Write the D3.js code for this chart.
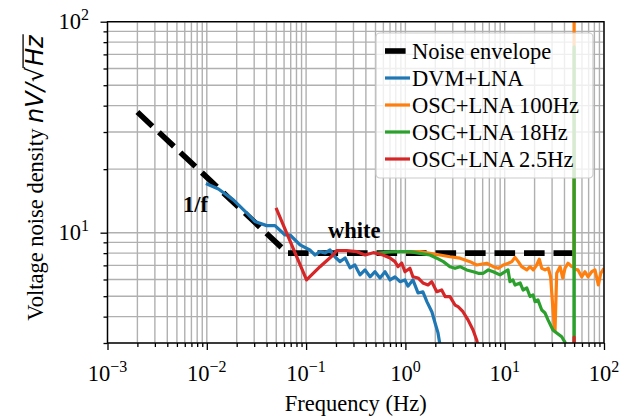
<!DOCTYPE html>
<html><head><meta charset="utf-8">
<script src="https://cdn.jsdelivr.net/npm/d3@7"></script>
<style>
html,body{margin:0;padding:0;background:#fff;}
svg{display:block;}
</style></head>
<body>
<svg id="chart" width="627" height="418"></svg>
<script>
// ---------- data ----------
const envelopeF = [0.002, 0.065, 50];
const envelopeV = [37.3, 8, 8];

const blueF = [0.0098,0.0131,0.0185,0.0252,0.0305,0.0401,0.0486,0.0614,0.0689,0.0869,0.109,0.123,0.138,0.155,0.174,0.195,0.219,0.247,0.277,0.310,0.349,0.392,0.441,0.494,0.555,0.624,0.700,0.785,0.883,0.99,1.06,1.19,1.34,1.50,1.65,1.85,1.99,2.13,2.23];
const blueV = [17.1,16.1,14.3,12.4,11.3,10.8,10.8,9.75,9.75,8.75,8.28,7.84,8.13,8.01,8.28,7.69,7.29,7.59,6.81,7.03,6.31,6.66,6.18,6.53,6.10,6.53,5.97,6.18,5.86,5.97,5.58,5.97,5.18,5.24,4.70,4.21,3.73,3.35,2.94];

const orangeF = [1.0,1.40,1.77,2.23,2.81,3.55,4.47,5.22,6.59,7.67,8.63,9.68,10.9,11.8,12.7,13.7,14.8,16.7,18.0,19.4,21.0,22.3,23.6,25.5,27.5,29.0,30.8,32.1,33.4,36.1,38.4,40.5,43.4,47.3,49.8,50,50.2,54.7,59.6,64.4,69.0,75.2,81.1,87.7,92.7,100];
const orangeV = [8.1,8.13,7.98,7.84,7.69,7.57,7.29,7.03,7.16,6.90,6.78,7.03,7.16,7.29,7.64,7.29,6.90,6.66,6.90,6.66,7.03,7.48,6.78,6.66,6.78,6.18,4.16,3.40,6.42,6.90,6.10,6.78,7.16,6.90,6.9,200,6.7,6.66,6.18,6.53,6.18,6.53,6.66,5.65,6.42,6.78];

const greenF = [0.494,0.70,0.883,1.11,1.40,1.77,2.07,2.41,2.81,3.16,3.55,4.14,4.83,5.42,6.09,6.84,7.67,8.97,10.1,10.8,11.3,12.1,12.7,14.3,15.3,16.7,18.0,19.3,20.2,21.6,23.6,25.5,27.3,30.6,33.4,37.5,40.5,45,49.8,50,50.2];
const greenV = [7.98,8.1,8.13,8.13,7.98,7.84,7.57,7.29,6.90,6.78,6.90,6.66,6.53,6.42,6.42,6.66,6.53,6.31,6.53,6.66,5.86,5.97,5.65,5.78,5.35,5.47,4.98,5.07,4.71,4.80,4.30,4.16,3.86,3.46,3.35,3.21,3.02,2.8,2.6,76,2.5];

const redF = [0.0498,0.101,0.138,0.187,0.203,0.256,0.324,0.392,0.475,0.594,0.700,0.785,0.843,0.918,0.99,1.11,1.19,1.34,1.50,1.69,1.84,2.07,2.32,2.51,2.81,3.16,3.39,3.80,4.27,4.80,5.22,5.6,49.8,50,50.2,100];
const redV = [13.1,5.97,6.90,7.84,8.22,8.22,8.13,7.84,8.04,7.84,7.59,7.29,6.90,7.18,6.53,6.78,6.18,6.10,5.78,5.65,5.86,5.25,5.35,4.98,4.98,4.54,4.46,4.22,3.86,3.46,3.10,2.7,2.4,3.2,2.4,2.4];

const seriesNames = ["Noise envelope","DVM+LNA","OSC+LNA 100Hz","OSC+LNA 18Hz","OSC+LNA 2.5Hz"];
const seriesColors = ["#000000","#1f77b4","#ff7f0e","#2ca02c","#d62728"];
const xMajorExp = [-3,-2,-1,0,1,2];
const yMajorExp = [1,2];
const xLabel = "Frequency (Hz)";
const yLabelText = "Voltage noise density ";
const annotations = [{text:"1/f", f:0.00575, v:12.5}, {text:"white", f:0.166, v:9.44}];

// ---------- layout ----------
const svg = d3.select("#chart");
const L=107.5, R=604, T=21.7, B=343;
const x = d3.scaleLog().domain([1e-3,1e2]).range([L,R]);
const y = d3.scaleLog().domain([3,100]).range([B,T]);
const serif = "'Liberation Serif','Times New Roman',serif";
const FS = 22.5;

const xMajor = xMajorExp.map(e=>Math.pow(10,e));
const xMinor = [];
for (let e=-3;e<=1;e++) for (let m=2;m<=9;m++) xMinor.push(m*Math.pow(10,e));
const yMajor = yMajorExp.map(e=>Math.pow(10,e));
const yMinor = [];
for (let m=3;m<=9;m++) yMinor.push(m);
for (let m=2;m<=9;m++) yMinor.push(m*10);

svg.append("defs").append("clipPath").attr("id","clip")
  .append("rect").attr("x",L).attr("y",T).attr("width",R-L).attr("height",B-T);

// grid
const grid = svg.append("g").attr("stroke","#b0b0b0").attr("stroke-width",1.4);
xMajor.concat(xMinor).forEach(v=>{
  grid.append("line").attr("x1",x(v)).attr("x2",x(v)).attr("y1",T).attr("y2",B);
});
yMajor.concat(yMinor).forEach(v=>{
  grid.append("line").attr("y1",y(v)).attr("y2",y(v)).attr("x1",L).attr("x2",R);
});

// axes ticks
function styleAxis(g){ g.select(".domain").remove(); g.selectAll("line").attr("stroke","#000").attr("stroke-width",1.3); }
svg.append("g").attr("transform",`translate(0,${B})`)
  .call(d3.axisBottom(x).tickValues(xMajor).tickSize(7).tickFormat("")).call(styleAxis);
svg.append("g").attr("transform",`translate(0,${B})`)
  .call(d3.axisBottom(x).tickValues(xMinor).tickSize(4).tickFormat("")).call(styleAxis);
svg.append("g").attr("transform",`translate(${L},0)`)
  .call(d3.axisLeft(y).tickValues(yMajor).tickSize(7).tickFormat("")).call(styleAxis);
svg.append("g").attr("transform",`translate(${L},0)`)
  .call(d3.axisLeft(y).tickValues(yMinor).tickSize(4).tickFormat("")).call(styleAxis);

// tick labels
function expLabel(sel, e){
  sel.append("tspan").text("10");
  sel.append("tspan").attr("dy",-9).attr("font-size",16).text(e<0 ? "\u2212"+(-e) : String(e));
}
xMajorExp.forEach(e=>{
  const t = svg.append("text").attr("x",x(Math.pow(10,e))).attr("y",381)
    .attr("text-anchor","middle").attr("font-family",serif).attr("font-size",FS);
  expLabel(t,e);
});
yMajorExp.forEach(e=>{
  const t = svg.append("text").attr("x",89).attr("y",y(Math.pow(10,e))+7.5)
    .attr("text-anchor","end").attr("font-family",serif).attr("font-size",FS);
  expLabel(t,e);
});

// axis labels
svg.append("text").attr("x",(L+R)/2).attr("y",411).attr("text-anchor","middle")
  .attr("font-family",serif).attr("font-size",FS).text(xLabel);

const yl = svg.append("g").attr("transform","translate(43,178) rotate(-90)");
const ylt = yl.append("text").attr("text-anchor","middle").attr("font-family",serif).attr("font-size",FS);
ylt.append("tspan").text(yLabelText);
const mathFS = 24;
ylt.append("tspan").attr("font-family","'DejaVu Sans',sans-serif").attr("font-style","italic").attr("font-size",mathFS).text("nV/");
ylt.append("tspan").attr("font-family","'DejaVu Sans',sans-serif").attr("font-size",mathFS).attr("dx",1).text("\u221A");
ylt.append("tspan").attr("font-family","'DejaVu Sans',sans-serif").attr("font-style","italic").attr("font-size",mathFS).attr("dx",1).text("Hz");

// series lines
const line = d3.line().x(d=>x(d[0])).y(d=>y(d[1]));
const plot = svg.append("g").attr("clip-path","url(#clip)");
function zip(a,b){ return a.map((v,i)=>[v,b[i]]); }
plot.append("path").datum(zip(envelopeF,envelopeV)).attr("d",line)
  .attr("fill","none").attr("stroke",seriesColors[0]).attr("stroke-width",5.6)
  .attr("stroke-dasharray","20.6 8.9");
const dataSets = [[blueF,blueV],[orangeF,orangeV],[greenF,greenV],[redF,redV]];
dataSets.forEach((s,i)=>{
  plot.append("path").datum(zip(s[0],s[1])).attr("d",line)
    .attr("fill","none").attr("stroke",seriesColors[i+1]).attr("stroke-width",3.2)
    .attr("stroke-linejoin","round");
});

// annotations
annotations.forEach(a=>{
  svg.append("text").attr("x",x(a.f)).attr("y",y(a.v)).attr("font-family",serif)
    .attr("font-weight","bold").attr("font-size",FS).text(a.text);
});

// frame
svg.append("rect").attr("x",L).attr("y",T).attr("width",R-L).attr("height",B-T)
  .attr("fill","none").attr("stroke","#000").attr("stroke-width",1.4);

// legend
const lg = svg.append("g");
lg.append("rect").attr("x",376).attr("y",33).attr("width",217).attr("height",145)
  .attr("rx",4).attr("fill","#fff").attr("fill-opacity",0.8).attr("stroke","#cccccc").attr("stroke-width",1.2);
seriesNames.forEach((n,i)=>{
  const yy = 51 + i*27;
  lg.append("line").attr("x1",385).attr("x2",i===0?407:410).attr("y1",yy).attr("y2",yy)
    .attr("stroke",seriesColors[i]).attr("stroke-width",i===0?5.6:3.2)
    .attr("stroke-dasharray",i===0?"20.6 8.9":null);
  lg.append("text").attr("x",412).attr("y",yy+8).attr("font-family",serif).attr("font-size",FS).text(n);
});

// overline for sqrt
const tnode = ylt.node();
const str = tnode.textContent;
const iS = str.indexOf("\u221A");
const iZ = str.length-1;
const s0 = tnode.getEndPositionOfChar(iS);
const s1 = tnode.getEndPositionOfChar(iZ);
yl.append("line").attr("x1",s0.x-1).attr("x2",s1.x+1).attr("y1",-mathFS*0.83).attr("y2",-mathFS*0.83)
  .attr("stroke","#000").attr("stroke-width",1.3);
</script>
</body></html>
